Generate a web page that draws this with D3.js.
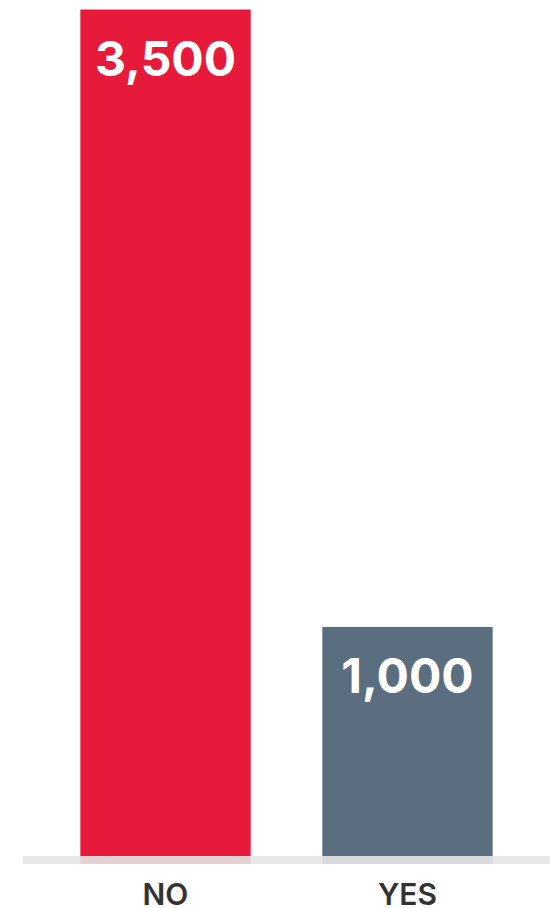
<!DOCTYPE html>
<html>
<head>
<meta charset="utf-8">
<script src="https://cdn.jsdelivr.net/npm/d3@7"></script>
<style>
  html, body { margin: 0; padding: 0; background: #fff; }
  svg { display: block; }
</style>
</head>
<body>
<div id="chart"></div>
<script>
var categories = ['NO', 'YES'];
var values = [3500, 1000];
var barColors = ['#e81a3b', '#5b6e80'];

function bar_chart(containerID) {
    var width = 550, height = 908;
    var baseY = 864;

    var svg = d3.select('#' + containerID).append('svg')
        .attr('width', width)
        .attr('height', height);

    var x = d3.scaleBand()
        .domain(categories)
        .range([23, 550])
        .paddingInner(0.296)
        .paddingOuter(0.237);

    var y = d3.scaleLinear()
        .domain([40, 3500])
        .range([baseY, 9.5]);

    var data = categories.map(function (c, i) {
        return { cat: c, value: values[i], color: barColors[i] };
    });

    svg.selectAll('rect.bar')
        .data(data)
        .enter().append('rect')
        .attr('class', 'bar')
        .attr('x', function (d) { return x(d.cat); })
        .attr('width', x.bandwidth())
        .attr('y', function (d) { return y(d.value); })
        .attr('height', function (d) { return baseY - y(d.value); })
        .attr('fill', function (d) { return d.color; });

    // grey baseline band sits over the bar bottoms
    svg.append('rect')
        .attr('x', 23)
        .attr('y', 856)
        .attr('width', width - 23)
        .attr('height', 8)
        .attr('fill', '#e4e4e4')
        .attr('opacity', 0.9);

    svg.selectAll('text.value')
        .data(data)
        .enter().append('text')
        .attr('class', 'value')
        .attr('x', function (d) { return x(d.cat) + x.bandwidth() / 2; })
        .attr('y', function (d) { return y(d.value) + 66; })
        .attr('text-anchor', 'middle')
        .attr('fill', '#fff')
        .style('font-family', 'Inter, sans-serif')
        .style('font-weight', 700)
        .style('font-size', '48px')
        .text(function (d) { return d3.format(',')(d.value); });

    var axis = svg.append('g')
        .attr('transform', 'translate(0,' + 905 + ')')
        .call(d3.axisBottom(x).tickSize(0).tickPadding(0));
    axis.select('.domain').remove();
    axis.selectAll('text')
        .attr('dy', 0)
        .attr('fill', '#333')
        .style('font-family', 'Inter, sans-serif')
        .style('font-weight', 600)
        .style('font-size', '30px');
}

bar_chart('chart');
</script>
</body>
</html>
